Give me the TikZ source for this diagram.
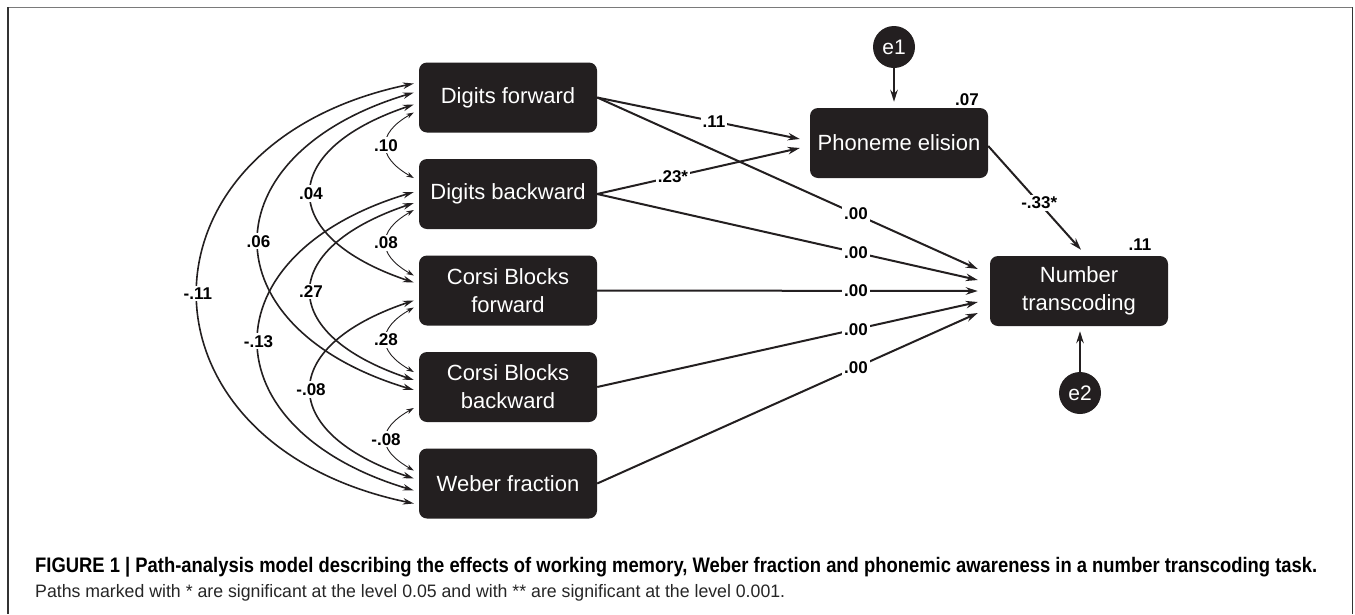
\documentclass[tikz,border=0pt]{standalone}
\usepackage{fontspec}
\setmainfont{Liberation Sans}
\usepackage{graphicx}
\usetikzlibrary{arrows.meta,calc}
\definecolor{boxc}{HTML}{231F20}
\definecolor{framegray}{HTML}{7A7A7A}
\definecolor{framedark}{HTML}{333333}
\begin{document}
\begin{tikzpicture}[x=1pt,y=-1pt,
  box/.style={rectangle, rounded corners=8pt, fill=boxc, text=white,
    minimum width=178pt, minimum height=70pt, inner sep=0pt, align=center,
    font=\fontsize{22}{28}\selectfont},
  errc/.style={circle, fill=boxc, text=white, minimum size=42pt, inner sep=0pt,
    font=\fontsize{21}{24}\selectfont},
  lab/.style={fill=white, inner sep=2pt, font=\fontsize{17}{19}\selectfont\bfseries},
  rsq/.style={inner sep=0pt, font=\fontsize{17}{19}\selectfont\bfseries},
  arr/.style={line width=2pt, draw=boxc, -{Stealth[length=12pt,width=7.5pt]}},
  corr/.style={line width=1.6pt, draw=boxc,
    {Stealth[length=11pt,width=6.5pt]}-{Stealth[length=11pt,width=6.5pt]}},
  corrthin/.style={line width=0.9pt, draw=boxc,
    {Stealth[length=7.5pt,width=5pt]}-{Stealth[length=7.5pt,width=5pt]}}
]
\useasboundingbox (0,0) rectangle (1355,614);
\fill[white] (0,0) rectangle (1355,614);
% frame
\draw[framegray, line width=1.5pt] (8,7.5) -- (1353,7.5);
\draw[framedark, line width=1.5pt] (8,7) -- (8,614);
\draw[framedark, line width=1.5pt] (1352.5,7) -- (1352.5,614);

% nodes
\node[box] (b1) at (508,97.5) {Digits forward};
\node[box] (b2) at (508,194) {Digits backward};
\node[box] (b3) at (508,290.5) {Corsi Blocks\\forward};
\node[box] (b4) at (508,387) {Corsi Blocks\\backward};
\node[box] (b5) at (508,483.5) {Weber fraction};
\node[box] (ph) at (899,143) {Phoneme elision};
\node[box] (num) at (1079,291) {Number\\transcoding};
\node[errc] (e1) at (894,47) {e1};
\node[errc] (e2) at (1080,393) {e2};
\node[rsq] (r1) at (967,100) {.07};
\node[rsq] (r2) at (1140,245) {.11};

% error arrows
\draw[arr] (e1.south) -- ($(e1.south |- ph.north)+(0,-6)$);
\draw[arr] (e2.north) -- ($(e2.north |- num.south)+(0,5)$);

% paths
\draw[arr] (b1.east) -- ([xshift=-10pt,yshift=4pt]ph.west) node[lab,pos=0.576]{.11};
\draw[arr] (b2.east) -- ([xshift=-10pt,yshift=-5pt]ph.west) node[lab,pos=0.374]{.23*};
\draw[arr] (b1.east) -- ([xshift=-12pt,yshift=22pt]num.west) node[lab,pos=0.68]{.00};
\draw[arr] (b2.east) -- ([xshift=-12pt,yshift=11pt]num.west) node[lab,pos=0.68]{.00};
\draw[arr] (b3.east) -- ([xshift=-12pt,yshift=0pt]num.west) node[lab,pos=0.68]{.00};
\draw[arr] (b4.east) -- ([xshift=-12pt,yshift=-11pt]num.west) node[lab,pos=0.68]{.00};
\draw[arr] (b5.east) -- ([xshift=-12pt,yshift=-22pt]num.west) node[lab,pos=0.68]{.00};
\draw[arr] ([yshift=-3pt]ph.east) -- ($(num.north)+(2,-6)$) node[lab,pos=0.55]{-.33*};

% correlations: biggest
\draw[corr] ([xshift=-5pt,yshift=14pt]b1.west) .. controls +(-288,60) and +(-288,-60) .. ([xshift=-5pt,yshift=-20pt]b5.west) node[lab,pos=0.5]{-.11};
% big
\draw[corr] ([xshift=-5pt,yshift=5pt]b1.west) .. controls +(-207,62) and +(-207,-62) .. ([xshift=-5pt,yshift=-3pt]b4.west) node[lab,pos=0.5]{.06};
\draw[corr] ([xshift=-5pt,yshift=2pt]b2.west) .. controls +(-207,62) and +(-207,-62) .. ([xshift=-5pt,yshift=-7pt]b5.west) node[lab,pos=0.5]{-.13};
% medium
\draw[corr] ([xshift=-5pt,yshift=-7pt]b1.west) .. controls +(-137,46) and +(-137,-46) .. ([xshift=-5pt,yshift=8pt]b3.west) node[lab,pos=0.5]{.04};
\draw[corr] ([xshift=-5pt,yshift=-9pt]b2.west) .. controls +(-137,46) and +(-137,-46) .. ([xshift=-5pt,yshift=7pt]b4.west) node[lab,pos=0.5]{.27};
\draw[corr] ([xshift=-5pt,yshift=-10pt]b3.west) .. controls +(-137,46) and +(-137,-46) .. ([xshift=-5pt,yshift=5pt]b5.west) node[lab,pos=0.5]{-.08};
% thin adjacent
\draw[corrthin] ([xshift=-5pt,yshift=-15pt]b1.west) .. controls +(-37,21) and +(-37,-21) .. ([xshift=-5pt,yshift=16pt]b2.west) node[lab,pos=0.5]{.10};
\draw[corrthin] ([xshift=-5pt,yshift=-16pt]b2.west) .. controls +(-37,21) and +(-37,-21) .. ([xshift=-5pt,yshift=15pt]b3.west) node[lab,pos=0.5]{.08};
\draw[corrthin] ([xshift=-5pt,yshift=-17pt]b3.west) .. controls +(-37,21) and +(-37,-21) .. ([xshift=-5pt,yshift=15pt]b4.west) node[lab,pos=0.5]{.28};
\draw[corrthin] ([xshift=-5pt,yshift=-21pt]b4.west) .. controls +(-37,21) and +(-37,-21) .. ([xshift=-5pt,yshift=13pt]b5.west) node[lab,pos=0.5]{-.08};

% caption
\node[anchor=base west, inner sep=0pt] (cap1) at (35,572) {\resizebox{1282pt}{\height}{\fontsize{21}{24}\selectfont\bfseries FIGURE 1 | Path-analysis model describing the effects of working memory, Weber fraction and phonemic awareness in a number transcoding task.}};
\node[anchor=base west, inner sep=0pt, text=black!85] (cap2) at (35,597) {\resizebox{750pt}{\height}{\fontsize{18}{20}\selectfont Paths marked with * are significant at the level 0.05 and with ** are significant at the level 0.001.}};
\end{tikzpicture}
\end{document}
